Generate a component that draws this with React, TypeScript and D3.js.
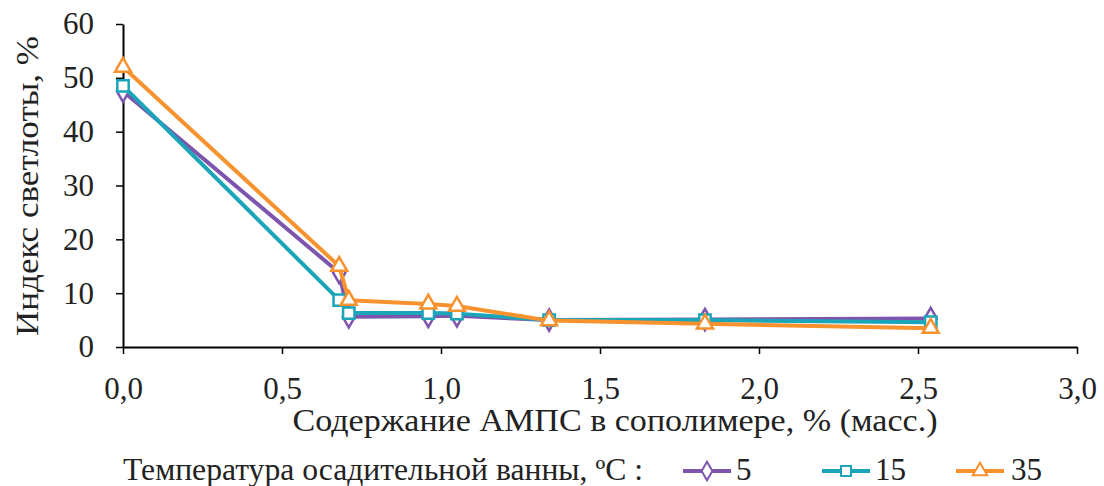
import React, { useEffect, useRef } from "react";
import * as d3 from "d3";

// AMPS content in copolymer, % (mass)
const amps = [0, 0.68, 0.71, 0.96, 1.05, 1.34, 1.83, 2.54];
// brightness index at bath temperature 5, 15, 35 °C
const t5 = [47.5, 13.8, 5.6, 5.7, 5.8, 5.0, 5.1, 5.3];
const t15 = [48.5, 8.7, 6.3, 6.3, 6.2, 5.0, 5.0, 4.6];
const t35 = [52, 15, 8.7, 8.0, 7.6, 4.9, 4.3, 3.5];

const seriesNames = ["5", "15", "35"];
const xTicks = [0, 0.5, 1, 1.5, 2, 2.5, 3];
const yTicks = [0, 10, 20, 30, 40, 50, 60];

const colors = ["#7d55ad", "#1aa5b8", "#f7922e"];
const symbols = [d3.symbolDiamond, d3.symbolSquare, d3.symbolTriangle];

const W = 1104;
const H = 486;
const margin = { top: 24, right: 27, bottom: 139, left: 123 };
const innerW = W - margin.left - margin.right;
const innerH = H - margin.top - margin.bottom;
const font = "Liberation Serif";

const App: React.FC = () => {
  const xAxisRef = useRef<SVGGElement>(null);
  const yAxisRef = useRef<SVGGElement>(null);

  const x = d3.scaleLinear().domain([0, 3]).range([0, innerW]);
  const y = d3.scaleLinear().domain([0, 60]).range([innerH, 0]);

  const line = d3
    .line<[number, number]>()
    .x(d => x(d[0]))
    .y(d => y(d[1]));

  const series = [t5, t15, t35].map(vals => amps.map((a, i) => [a, vals[i]] as [number, number]));

  useEffect(() => {
    const fmt = (d: d3.NumberValue) => (+d).toFixed(1).replace(".", ",");
    const xAxis = d3
      .axisBottom(x)
      .tickValues(xTicks)
      .tickFormat(fmt)
      .tickSize(7)
      .tickSizeOuter(0)
      .tickPadding(23);
    const yAxis = d3
      .axisLeft(y)
      .tickValues(yTicks)
      .tickFormat(d => String(d))
      .tickSize(7)
      .tickSizeOuter(0)
      .tickPadding(22);

    const gx = d3.select(xAxisRef.current!).call(xAxis as any);
    const gy = d3.select(yAxisRef.current!).call(yAxis as any);

    [gx, gy].forEach(g => {
      g.attr("font-family", null).attr("font-size", null);
      g.select(".domain").attr("stroke", "#000").attr("stroke-width", 2);
      g.selectAll(".tick line").attr("stroke", "#000").attr("stroke-width", 1.5);
      g.selectAll(".tick text")
        .attr("fill", "#222")
        .style("font-family", font)
        .style("font-size", "31px");
    });
  }, []);

  const sym = (i: number, size: number) => d3.symbol().type(symbols[i]).size(size)()!;

  const legendItems = [
    { lx: 683, tx: 736 },
    { lx: 822, tx: 875 },
    { lx: 956, tx: 1011 }
  ];

  const txt = { fontFamily: font, fontSize: 31 };

  return (
    <svg
      width={W}
      height={H}
      style={{ position: "absolute", left: 0, top: 0, background: "#fff" }}
    >
      <g transform={`translate(${margin.left},${margin.top})`}>
        <g ref={yAxisRef} />
        <g ref={xAxisRef} transform={`translate(0,${innerH})`} />
        {series.map((s, i) => (
          <g key={i}>
            <path d={line(s)!} fill="none" stroke={colors[i]} strokeWidth={4} strokeLinejoin="round" />
            {s.map((d, j) => (
              <path
                key={j}
                d={sym(i, i === 2 ? 110 : 130)}
                transform={`translate(${x(d[0])},${y(d[1])})`}
                fill="#fff"
                stroke={colors[i]}
                strokeWidth={2.5}
              />
            ))}
          </g>
        ))}
      </g>

      <text
        transform="translate(38,186) rotate(-90)"
        textAnchor="middle"
        fill="#222"
        textLength={300}
        lengthAdjust="spacingAndGlyphs"
        style={txt}
      >
        Индекс светлоты, %
      </text>
      <text
        x={615}
        y={431}
        textAnchor="middle"
        fill="#222"
        textLength={645}
        lengthAdjust="spacingAndGlyphs"
        style={txt}
      >
        Содержание АМПС в сополимере, % (масс.)
      </text>

      <text
        x={123}
        y={480}
        fill="#222"
        textLength={520}
        lengthAdjust="spacingAndGlyphs"
        style={txt}
      >
        Температура осадительной ванны, ºС :
      </text>
      {seriesNames.map((n, i) => (
        <g key={n}>
          <line
            x1={legendItems[i].lx}
            x2={legendItems[i].lx + 48}
            y1={471}
            y2={471}
            stroke={colors[i]}
            strokeWidth={4}
          />
          <path
            d={sym(i, i === 2 ? 90 : 100)}
            transform={`translate(${legendItems[i].lx + 24},471)`}
            fill="#fff"
            stroke={colors[i]}
            strokeWidth={2}
          />
          <text x={legendItems[i].tx} y={480} fill="#222" style={txt}>
            {n}
          </text>
        </g>
      ))}
    </svg>
  );
};

export default App;
